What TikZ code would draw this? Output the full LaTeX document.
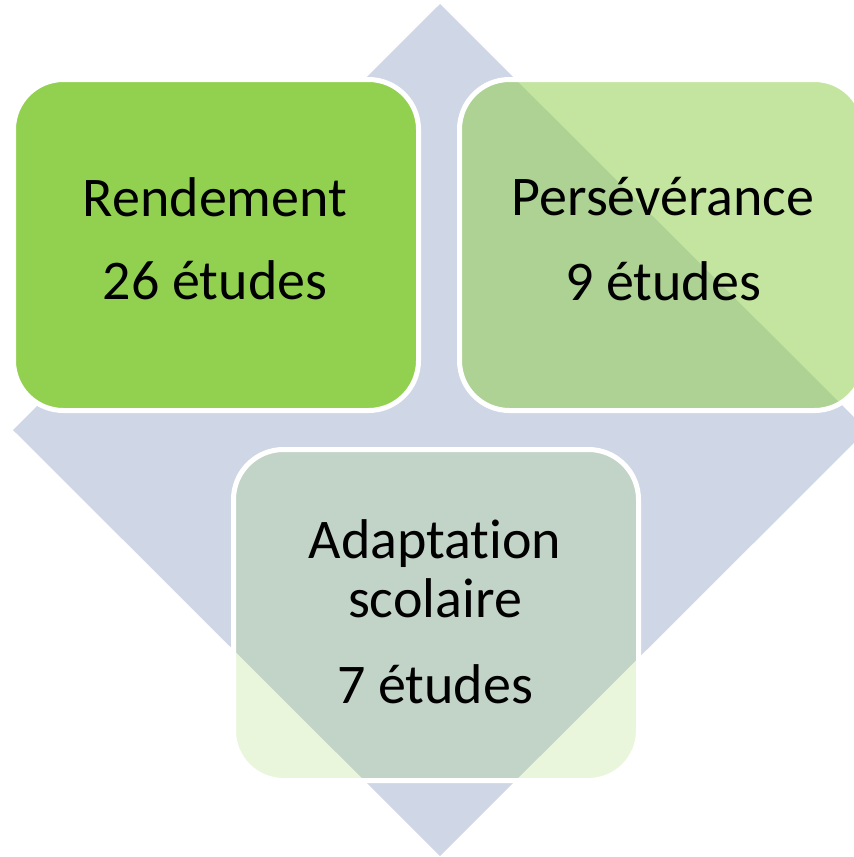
\documentclass[tikz,border=0pt]{standalone}
\usepackage{fontspec}
\setmainfont[Ligatures=NoCommon]{Carlito}
\definecolor{dia}{RGB}{207,214,230}
\definecolor{grn}{RGB}{146,208,80}
\begin{document}
\begin{tikzpicture}[x=1pt,y=-1pt,
  box/.style={draw=white, line width=5pt, rounded corners=50pt, minimum width=405pt, minimum height=331pt, inner sep=0pt, outer sep=0pt},
  lbl/.style={anchor=base, font=\fontsize{56}{60}\selectfont, inner sep=0pt, text=black}]
\useasboundingbox (0,0) rectangle (854,857);
\clip (0,0) rectangle (854,857);
\path[fill=dia] (440,4) coordinate (dt) -- (867,430) coordinate (dr) -- (440,856) coordinate (db) -- (13,430) coordinate (dl) -- cycle;
\node[box, fill=grn] (r) at (216,245) {};
\node[box, fill=grn, fill opacity=0.55] (p) at (662,245) {};
\node[box, fill=grn, fill opacity=0.2] (a) at (436,615) {};
\node[lbl] (r1) at (215,216) {Rendement};
\node[lbl] (r2) at (215,299) {26 études};
\node[lbl] (p1) at (663,215) {Persévérance};
\node[lbl] (p2) at (663,300) {9 études};
\node[lbl] (a1) at (435,558) {Adaptation};
\node[lbl] (a2) at (435,617) {scolaire};
\node[lbl] (a3) at (435,703) {7 études};
\end{tikzpicture}
\end{document}
